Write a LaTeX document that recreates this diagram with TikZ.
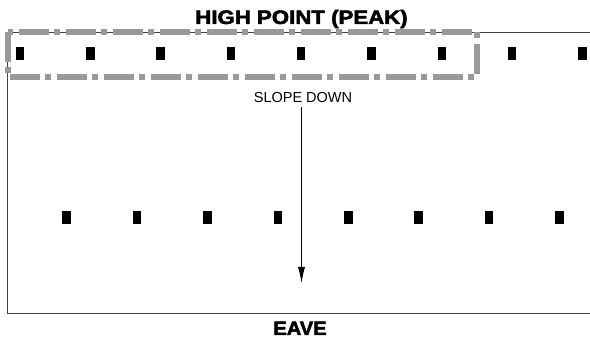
\documentclass[tikz,border=0pt]{standalone}
\usepackage{fontspec}
\setmainfont{Liberation Sans}
\newfontfamily\heavyfont[FakeBold=2.5]{Liberation Sans Bold}
\usetikzlibrary{arrows.meta}
\begin{document}
\begin{tikzpicture}[x=1pt,y=-1pt,
  fastener/.style={rectangle,fill=black,draw=none,minimum width=8.5pt,minimum height=13pt,inner sep=0pt},
  edgeline/.style={draw=black!75,line width=0.9pt},
  zone/.style={draw=black!40,line width=6pt,dash pattern=on 30pt off 5.5pt on 6pt off 5.5pt,line join=round},
  title/.style={font=\heavyfont\fontsize{19.5}{20}\selectfont,inner sep=0pt,anchor=base}]
\useasboundingbox (0,0) rectangle (590,339);
% outline of the roof plane
\coordinate (tr) at (590,32);
\coordinate (tl) at (7.5,32);
\coordinate (bl) at (7.5,313);
\coordinate (br) at (590,313);
\draw[edgeline] (tr) -- (tl) -- (bl) -- (br);
% peak zone
\draw[zone] (7.5,32) rectangle (476.5,77);
% fasteners, upper row
\foreach \i in {0,...,8}{
  \node[fastener] (u\i) at ({20+70.3*\i},53.5) {};
}
% fasteners, lower row
\foreach \i in {0,...,7}{
  \node[fastener] (l\i) at ({66.7+70.4*\i},217.5) {};
}
% labels
\node[title] (peak) at (301.5,24) {\scalebox{1.14}[1]{HIGH POINT (PEAK)}};
\node[title] (eave) at (300,335) {\scalebox{1.03}[1]{EAVE}};
\node[font=\fontsize{14.5}{15}\selectfont,inner sep=0pt,anchor=base] (slope) at (303,103) {SLOPE DOWN};
\coordinate (tip) at (301.5,283);
\draw[line width=0.8pt,-{Latex[length=16pt,width=7pt]}] (301.5,107.5) -- (tip);
\end{tikzpicture}
\end{document}
